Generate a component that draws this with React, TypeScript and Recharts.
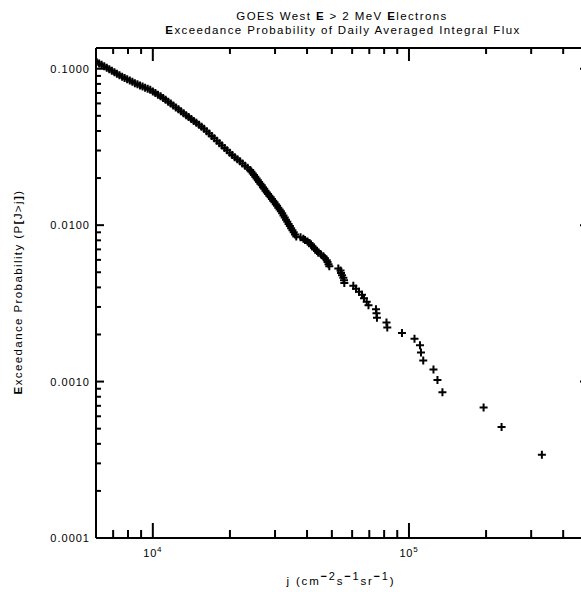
import React from 'react';
import { ScatterChart, Scatter, XAxis, YAxis } from 'recharts';

// Daily averaged integral flux j (cm^-2 s^-1 sr^-1) and exceedance probability P[J>j]
const fluxJ: number[] = [
  5750, 5890, 6030, 6170, 6310, 6460, 6610, 6760, 6920, 7080,
  7240, 7410, 7590, 7760, 7940, 8130, 8320, 8510, 8710, 8910,
  9120, 9330, 9550, 9770, 10000, 10230, 10470, 10720, 10970, 11220,
  11480, 11750, 12020, 12300, 12590, 12880, 13180, 13490, 13800, 14130,
  14450, 14790, 15140, 15490, 15850, 16220, 16600, 16980, 17380, 17780,
  18200, 18620, 19060, 19500, 19950, 20420, 20890, 21380, 21880, 22390,
  22910, 23440, 23990, 24270, 24550, 24830, 25120, 25410, 25700, 26000,
  26300, 26610, 26920, 27230, 27540, 27860, 28180, 28510, 28840, 29170,
  29510, 29850, 30200, 30550, 30900, 31260, 31620, 31990, 32360, 32730,
  33110, 33500, 33880, 34280, 34670, 35080, 35480, 35890, 36310, 37730,
  38690, 39280, 40180, 40910, 41470, 41840, 42600, 43180, 43750, 44270,
  45360, 46300, 47020, 47750, 48080, 48520, 48870, 52990, 54050, 54300,
  54790, 55430, 55780, 55930, 60640, 62130, 63820, 65560, 66750, 68390,
  69500, 74330, 74670, 75000, 81700, 82290, 93900, 105100, 110400, 111400,
  113700, 124650, 129200, 135100, 195600, 229900, 330300,
];
const exceedP: number[] = [
  0.1162, 0.1134, 0.1106, 0.1082, 0.1059, 0.1036, 0.1014, 0.0993, 0.0971, 0.095,
  0.093, 0.0909, 0.089, 0.0872, 0.0856, 0.084, 0.0825, 0.0809, 0.0795, 0.0782,
  0.077, 0.0757, 0.0745, 0.0733, 0.0716, 0.0699, 0.0683, 0.0667, 0.0651, 0.0634,
  0.0616, 0.0599, 0.0582, 0.0566, 0.055, 0.0535, 0.052, 0.0505, 0.0491, 0.0477,
  0.0464, 0.0451, 0.0438, 0.0426, 0.0413, 0.0399, 0.0385, 0.0372, 0.0359, 0.0346,
  0.0334, 0.0323, 0.0311, 0.0301, 0.029, 0.0281, 0.0272, 0.0264, 0.0256, 0.0248,
  0.024, 0.0233, 0.0225, 0.02195, 0.0214, 0.0209, 0.0204, 0.0199, 0.0194, 0.0189,
  0.0184, 0.018, 0.0175, 0.0171, 0.0166, 0.0162, 0.0158, 0.0154, 0.0151, 0.0147,
  0.0143, 0.014, 0.0136, 0.0133, 0.0129, 0.0126, 0.01226, 0.0119, 0.01152, 0.0112,
  0.01083, 0.0105, 0.01018, 0.00987, 0.00957, 0.00928, 0.009, 0.00873, 0.00846, 0.008364,
  0.008194, 0.008023, 0.007852, 0.007682, 0.007511, 0.00734, 0.007169, 0.006999, 0.006828, 0.006657,
  0.006487, 0.006316, 0.006145, 0.005975, 0.005804, 0.005633, 0.005462, 0.005292, 0.005121, 0.00495,
  0.00478, 0.004609, 0.004438, 0.004268, 0.004097, 0.003926, 0.003755, 0.003585, 0.003414, 0.003243,
  0.003073, 0.002902, 0.002731, 0.002561, 0.00239, 0.002219, 0.002048, 0.001878, 0.001707, 0.001536,
  0.001366, 0.001195, 0.001024, 0.000854, 0.000683, 0.000512, 0.000341,
];

const xDomain: [number, number] = [6000, 500000];
const yDomain: [number, number] = [0.0001, 0.1357];
const xMajorTicks = [10000, 100000];
const xMajorExp = ['4', '5'];
const xMinorTicks = [7000, 8000, 9000, 20000, 30000, 40000, 50000, 60000, 70000, 80000, 90000, 200000, 300000, 400000];
const yMajorTicks = [0.0001, 0.001, 0.01, 0.1];
const yMajorLabels = ['0.0001', '0.0010', '0.0100', '0.1000'];
const yMinorTicks = [
  0.0002, 0.0003, 0.0004, 0.0005, 0.0006, 0.0007, 0.0008, 0.0009,
  0.002, 0.003, 0.004, 0.005, 0.006, 0.007, 0.008, 0.009,
  0.02, 0.03, 0.04, 0.05, 0.06, 0.07, 0.08, 0.09,
];

const points = fluxJ.map((j, i) => ({ j, p: exceedP[i] }));

const FONT = '"Liberation Sans", Arial, Helvetica, sans-serif';
const INK = '#000';

const Plus = (props: any) => {
  const { cx, cy } = props;
  if (cx == null || cy == null) return null;
  return (
    <path d={`M${cx - 4},${cy}H${cx + 4}M${cx},${cy - 4}V${cy + 4}`} stroke={INK} strokeWidth={2} fill="none" />
  );
};

const BottomTick = (props: any) => {
  const { x, payload } = props;
  const y = props.y - 1;
  const idx = xMajorTicks.indexOf(payload.value);
  const major = idx >= 0;
  return (
    <g>
      <line x1={x} x2={x} y1={y} y2={y - (major ? 14 : 7)} stroke={INK} strokeWidth={2} />
      {major && (
        <text x={x} y={y + 20} textAnchor="middle" fontFamily={FONT} fontSize={11} fill={INK} letterSpacing={0.8}>
          10<tspan dy={-5} fontSize={8}>{xMajorExp[idx]}</tspan>
        </text>
      )}
    </g>
  );
};

const TopTick = (props: any) => {
  const { x, y, payload } = props;
  const major = xMajorTicks.indexOf(payload.value) >= 0;
  return <line x1={x} x2={x} y1={y} y2={y + (major ? 13 : 6)} stroke={INK} strokeWidth={2} />;
};

const LeftTick = (props: any) => {
  const { x, y, payload } = props;
  const idx = yMajorTicks.indexOf(payload.value);
  const major = idx >= 0;
  return (
    <g>
      <line x1={x} x2={x + (major ? 8 : 5)} y1={y} y2={y} stroke={INK} strokeWidth={2} />
      {major && (
        <text x={x - 6} y={y + 4} textAnchor="end" fontFamily={FONT} fontSize={11} fill={INK} letterSpacing={1}>
          {yMajorLabels[idx]}
        </text>
      )}
    </g>
  );
};

const RightTick = (props: any) => {
  const { x, y, payload } = props;
  const major = yMajorTicks.indexOf(payload.value) >= 0;
  return <line x1={x} x2={x - (major ? 8 : 5)} y1={y} y2={y} stroke={INK} strokeWidth={2} />;
};

const axisLine = { stroke: INK, strokeWidth: 2 };

export default function App() {
  return (
    <div style={{ position: 'fixed', left: 0, top: 0, width: 581, height: 592, overflow: 'hidden', background: '#fff' }}>
      <ScatterChart width={600} height={592} margin={{ top: 47, right: 11, bottom: 53, left: 95 }}>
        <XAxis
          xAxisId="bottom"
          dataKey="j"
          type="number"
          scale="log"
          domain={xDomain}
          allowDataOverflow
          ticks={[...xMajorTicks, ...xMinorTicks]}
          interval={0}
          height={1}
          tickSize={0}
          tickMargin={0}
          tickLine={false}
          axisLine={axisLine}
          tick={<BottomTick />}
        />
        <XAxis
          xAxisId="top"
          orientation="top"
          dataKey="j"
          type="number"
          scale="log"
          domain={xDomain}
          allowDataOverflow
          ticks={[...xMajorTicks, ...xMinorTicks]}
          interval={0}
          height={1}
          tickSize={0}
          tickMargin={0}
          tickLine={false}
          axisLine={axisLine}
          tick={<TopTick />}
        />
        <YAxis
          yAxisId="left"
          dataKey="p"
          type="number"
          scale="log"
          domain={yDomain}
          allowDataOverflow
          ticks={[...yMajorTicks, ...yMinorTicks]}
          interval={0}
          width={1}
          tickSize={0}
          tickMargin={0}
          tickLine={false}
          axisLine={axisLine}
          tick={<LeftTick />}
        />
        <YAxis
          yAxisId="right"
          orientation="right"
          dataKey="p"
          type="number"
          scale="log"
          domain={yDomain}
          allowDataOverflow
          ticks={[...yMajorTicks, ...yMinorTicks]}
          interval={0}
          width={1}
          tickSize={0}
          tickMargin={0}
          tickLine={false}
          axisLine={axisLine}
          tick={<RightTick />}
        />
        <Scatter
          data={points}
          xAxisId="bottom"
          yAxisId="left"
          shape={<Plus />}
          isAnimationActive={false}
        />
      </ScatterChart>
      <svg width={581} height={592} style={{ position: 'absolute', left: 0, top: 0, pointerEvents: 'none' }}>
        <g fontFamily={FONT} fontSize={11.5} fill={INK} letterSpacing={1.4}>
          <text x={342} y={20} textAnchor="middle">
            GOES West <tspan fontWeight="bold">E</tspan> &gt; 2 MeV <tspan fontWeight="bold">E</tspan>lectrons
          </text>
          <text x={343} y={34} textAnchor="middle">
            <tspan fontWeight="bold">E</tspan>xceedance Probability of Daily Averaged Integral Flux
          </text>
          <text x={341} y={585} textAnchor="middle" letterSpacing={1.8}>
            j (cm<tspan dy={-5} fontSize={11} fontWeight="bold">−</tspan><tspan fontSize={11}>2</tspan><tspan dy={5}>s</tspan>
            <tspan dy={-5} fontSize={11} fontWeight="bold">−</tspan><tspan fontSize={11}>1</tspan><tspan dy={5}>sr</tspan>
            <tspan dy={-5} fontSize={11} fontWeight="bold">−</tspan><tspan fontSize={11}>1</tspan><tspan dy={5}>)</tspan>
          </text>
          <text x={0} y={0} textAnchor="middle" transform="translate(22,292) rotate(-90)">
            <tspan fontWeight="bold">E</tspan>xceedance Probability (P<tspan fontWeight="bold">[</tspan>J&gt;j<tspan fontWeight="bold">]</tspan>)
          </text>
        </g>
      </svg>
    </div>
  );
}
